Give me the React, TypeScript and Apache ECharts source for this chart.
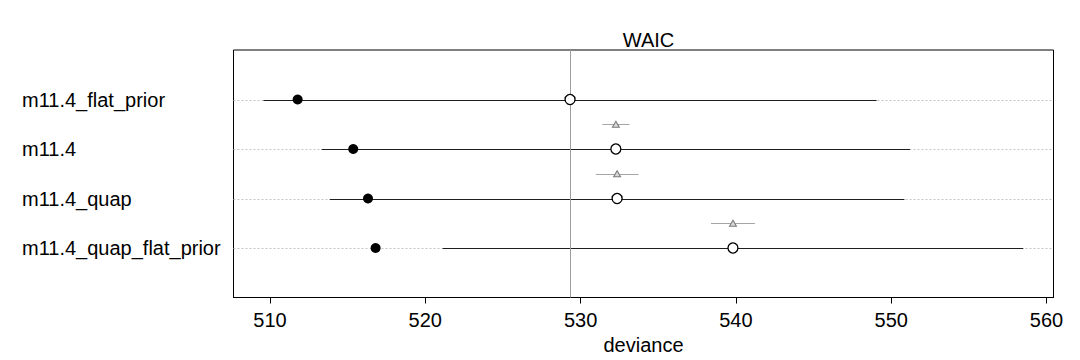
import React, { useEffect, useRef } from "react";
import * as echarts from "echarts";

// ---- data ----
const models = ["m11.4_flat_prior", "m11.4", "m11.4_quap", "m11.4_quap_flat_prior"];
const rowPos = [4, 3, 2, 1]; // vertical position of each model row
const inSampleDeviance = [511.78, 515.36, 516.31, 516.8];
const waic = [529.32, 532.27, 532.35, 539.81];
const waicSE = [19.74, 18.94, 18.5, 18.69];
const dSE = [0, 0.87, 1.375, 1.415]; // SE of difference to the top model
const xTicks = [510, 520, 530, 540, 550, 560];
const xMin = 507.65;
const xMax = 560.45;
const FONT = "Liberation Sans, Arial, sans-serif";

export default function App() {
  const ref = useRef<HTMLDivElement>(null);
  useEffect(() => {
    if (!ref.current) return;
    const chart = echarts.init(ref.current, null, { renderer: "svg" });

    const rowData = models.map((_, i) => [waic[i], rowPos[i], waic[i] - waicSE[i], waic[i] + waicSE[i]]);
    const diffIdx = models.map((_, i) => i).filter((i) => i > 0);
    const diffData = diffIdx.map((i) => [waic[i], rowPos[i] + 0.5, waic[i] - dSE[i], waic[i] + dSE[i]]);

    const option: any = {
      animation: false,
      title: {
        text: "WAIC",
        left: 643.5,
        top: 25,
        textAlign: "center",
        textStyle: { fontFamily: FONT, fontSize: 20, fontWeight: "normal", color: "#000" },
      },
      grid: {
        left: 233.5,
        right: 26.5,
        top: 50,
        bottom: 62.5,
        show: true,
        borderColor: "#000",
        borderWidth: 1,
        backgroundColor: "transparent",
      },
      xAxis: {
        type: "value",
        min: xMin,
        max: xMax,
        name: "deviance",
        nameLocation: "middle",
        nameGap: 37,
        nameTextStyle: { fontFamily: FONT, fontSize: 20, color: "#000" },
        axisLine: { show: true, lineStyle: { color: "#000", width: 1 } },
        axisTick: { show: true, length: 6, lineStyle: { color: "#000" }, customValues: xTicks },
        axisLabel: {
          show: true,
          fontFamily: FONT,
          fontSize: 20,
          color: "#000",
          margin: 12,
          customValues: xTicks,
          formatter: (v: number) => String(Math.round(v)),
        },
        splitLine: { show: false },
      },
      yAxis: {
        type: "value",
        min: 0,
        max: 5,
        interval: 1,
        axisLine: { show: false },
        axisTick: { show: false },
        splitLine: { show: false },
        axisLabel: {
          show: true,
          align: "left",
          margin: 211.5,
          fontFamily: FONT,
          fontSize: 20,
          color: "#000",
          formatter: (v: number) => {
            const i = rowPos.indexOf(Math.round(v));
            return i >= 0 ? models[i] : "";
          },
        },
      },
      series: [
        {
          // dotted guide lines at each model row
          type: "custom",
          silent: true,
          z: 1,
          data: rowData,
          renderItem: (params: any, api: any) => {
            const cs = params.coordSys;
            const y = Math.round(api.coord([api.value(0), api.value(1)])[1]) + 0.5;
            return {
              type: "line",
              shape: { x1: cs.x, y1: y, x2: cs.x + cs.width, y2: y },
              style: { stroke: "#c4c4c4", lineWidth: 1, lineDash: [2, 2] },
            };
          },
          markLine: {
            silent: true,
            symbol: "none",
            label: { show: false },
            lineStyle: { color: "#9e9e9e", type: "solid", width: 1 },
            data: [{ xAxis: waic[0] }],
          },
        },
        {
          // WAIC +/- SE
          type: "custom",
          silent: true,
          z: 3,
          data: rowData,
          renderItem: (params: any, api: any) => {
            const yv = api.value(1);
            const p1 = api.coord([api.value(2), yv]);
            const p2 = api.coord([api.value(3), yv]);
            const y = Math.round(p1[1]) + 0.5;
            return {
              type: "line",
              shape: { x1: p1[0], y1: y, x2: p2[0], y2: y },
              style: { stroke: "#1e1e1e", lineWidth: 1.1 },
            };
          },
        },
        {
          // difference SE
          type: "custom",
          silent: true,
          z: 3,
          data: diffData,
          renderItem: (params: any, api: any) => {
            const yv = api.value(1);
            const p1 = api.coord([api.value(2), yv]);
            const p2 = api.coord([api.value(3), yv]);
            const y = Math.round(p1[1]) + 0.5;
            return {
              type: "line",
              shape: { x1: p1[0], y1: y, x2: p2[0], y2: y },
              style: { stroke: "#a6a6a6", lineWidth: 1 },
            };
          },
        },
        {
          type: "scatter",
          silent: true,
          z: 4,
          symbol: "circle",
          symbolSize: 10,
          itemStyle: { color: "#000", opacity: 1 },
          data: inSampleDeviance.map((v, i) => [v, rowPos[i]]),
        },
        {
          type: "scatter",
          silent: true,
          z: 5,
          symbol: "circle",
          symbolSize: 10,
          itemStyle: { color: "#fff", borderColor: "#000", borderWidth: 1.3, opacity: 1 },
          data: waic.map((v, i) => [v, rowPos[i]]),
        },
        {
          type: "scatter",
          silent: true,
          z: 5,
          symbol: "triangle",
          symbolSize: [7, 6],
          itemStyle: { color: "#d8d8d8", borderColor: "#7a7a7a", borderWidth: 1, opacity: 1 },
          data: diffIdx.map((i) => [waic[i], rowPos[i] + 0.5]),
        },
      ],
    };

    chart.setOption(option);
    return () => chart.dispose();
  }, []);

  return (
    <div
      ref={ref}
      style={{ position: "absolute", left: 0, top: 0, width: 1080, height: 360, background: "#fff" }}
    />
  );
}
